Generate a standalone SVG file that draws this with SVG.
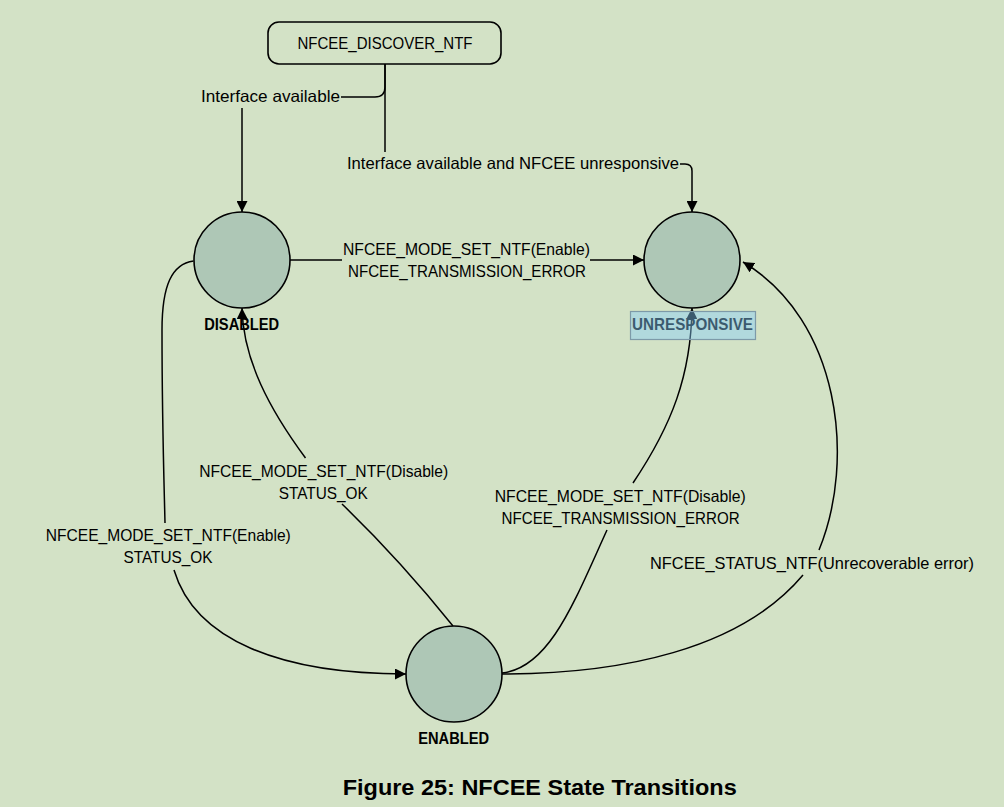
<svg xmlns="http://www.w3.org/2000/svg" width="1004" height="807" viewBox="0 0 1004 807">
<style>
.bg{fill:#d3e2c6}
.state{fill:#aec7b6;stroke:#000;stroke-width:1.6}
.box{fill:none;stroke:#000;stroke-width:1.6}
.edge{fill:none;stroke:#000;stroke-width:1.5}
.t{font-family:"Liberation Sans",Arial,sans-serif;font-size:16.5px;fill:#000;text-anchor:middle}
.b{font-family:"Liberation Sans",Arial,sans-serif;font-size:16.5px;font-weight:bold;fill:#000;text-anchor:middle}
.cap{font-family:"Liberation Sans",Arial,sans-serif;font-size:22.5px;font-weight:bold;fill:#000;text-anchor:middle}
.hl{fill:#86ccfa;fill-opacity:0.44;stroke:#7d9aa8;stroke-width:1.2}
</style>
<defs>
<marker id="arr" viewBox="0 0 11 11" refX="11" refY="5.5" markerWidth="11" markerHeight="11" markerUnits="userSpaceOnUse" orient="auto">
<path d="M0,0 L11,5.5 L0,11 z" fill="#000"/>
</marker>
</defs>
<rect class="bg" x="0" y="0" width="1004" height="807"/>

<g id="connectors">
<path class="edge" d="M385,64 V152"/>
<path class="edge" d="M385,64 V87 Q385,97 375,97 H341"/>
<path class="edge" d="M242,108 V212" marker-end="url(#arr)"/>
<path class="edge" d="M680,164 H685 Q692,164 692,171 V212" marker-end="url(#arr)"/>
<path class="edge" d="M290,260 H342"/>
<path class="edge" d="M590,260 H644" marker-end="url(#arr)"/>
<path class="edge" d="M193.5,261 C172,264 162,285 162,330 C162,420 164,480 165,523"/>
<path class="edge" d="M174,570 C195,640 280,674 406,674" marker-end="url(#arr)"/>
<path class="edge" d="M453,626 Q400,560 342,504"/>
<path class="edge" d="M305.5,458 C270,410 243,360 242,308" marker-end="url(#arr)"/>
<path class="edge" d="M502,673 C550,668 575,600 607,530"/>
<path class="edge" d="M633,483 C672,425 691,375 692,308" marker-end="url(#arr)"/>
<path class="edge" d="M803,575 C740,650 620,674 502,674"/>
<path class="edge" d="M819,550 C856,460 840,320 743,262" marker-end="url(#arr)"/>
<g id="edge-labels">
<text class="t" x="270.5" y="101.7" textLength="139" lengthAdjust="spacingAndGlyphs">Interface available</text>
<text class="t" x="513" y="169.3" textLength="332" lengthAdjust="spacingAndGlyphs">Interface available and NFCEE unresponsive</text>
<text class="t" x="466.5" y="255" textLength="247" lengthAdjust="spacingAndGlyphs">NFCEE_MODE_SET_NTF(Enable)</text>
<text class="t" x="467" y="277.3" textLength="238" lengthAdjust="spacingAndGlyphs">NFCEE_TRANSMISSION_ERROR</text>
<text class="t" x="168.3" y="540.5" textLength="245" lengthAdjust="spacingAndGlyphs">NFCEE_MODE_SET_NTF(Enable)</text>
<text class="t" x="168" y="563" textLength="89" lengthAdjust="spacingAndGlyphs">STATUS_OK</text>
<text class="t" x="323.7" y="476.5" textLength="249" lengthAdjust="spacingAndGlyphs">NFCEE_MODE_SET_NTF(Disable)</text>
<text class="t" x="323.2" y="498.5" textLength="89" lengthAdjust="spacingAndGlyphs">STATUS_OK</text>
<text class="t" x="620.2" y="501.7" textLength="251" lengthAdjust="spacingAndGlyphs">NFCEE_MODE_SET_NTF(Disable)</text>
<text class="t" x="620.6" y="524" textLength="238" lengthAdjust="spacingAndGlyphs">NFCEE_TRANSMISSION_ERROR</text>
<text class="t" x="812" y="569" textLength="324" lengthAdjust="spacingAndGlyphs">NFCEE_STATUS_NTF(Unrecoverable error)</text>
</g>
</g>

<g id="node-discover">
<rect class="box" x="268" y="22" width="233" height="42" rx="11"/>
<text class="t" x="385" y="49" textLength="175" lengthAdjust="spacingAndGlyphs">NFCEE_DISCOVER_NTF</text>
</g>
<g id="node-disabled">
<circle class="state" cx="242" cy="260" r="48"/>
<text class="b" x="241.7" y="330" textLength="75" lengthAdjust="spacingAndGlyphs">DISABLED</text>
</g>
<g id="node-unresponsive">
<circle class="state" cx="692" cy="260" r="48"/>
<text class="b" x="692.5" y="330" textLength="121" lengthAdjust="spacingAndGlyphs">UNRESPONSIVE</text>
<rect class="hl" x="630.5" y="311.5" width="125" height="28"/>
</g>
<g id="node-enabled">
<circle class="state" cx="454" cy="674" r="48"/>
<text class="b" x="453.7" y="744" textLength="71" lengthAdjust="spacingAndGlyphs">ENABLED</text>
</g>

<text class="cap" x="539.7" y="795" textLength="394" lengthAdjust="spacingAndGlyphs">Figure 25: NFCEE State Transitions</text>
</svg>
